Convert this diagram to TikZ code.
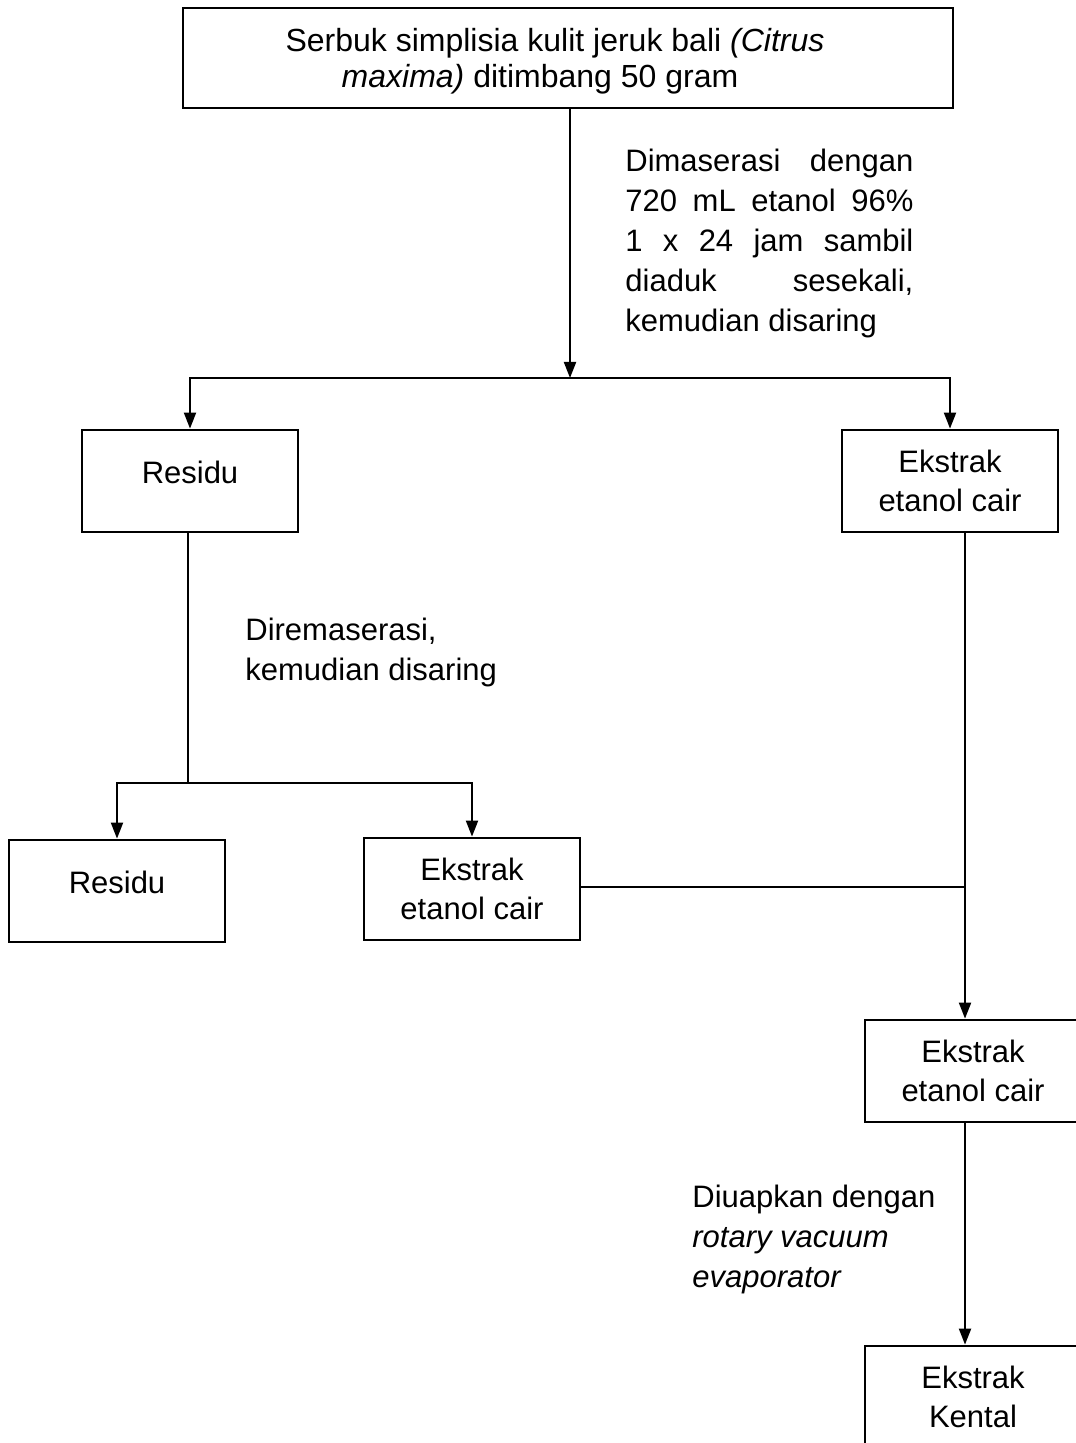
\documentclass[tikz,border=0pt]{standalone}
\usepackage{fontspec}
\setmainfont{Liberation Sans}
\usetikzlibrary{arrows.meta}

\begin{document}
\begin{tikzpicture}[x=0.5pt,y=-0.5pt,
  box/.style={draw,line width=1.4pt,minimum width=108pt,minimum height=51pt,align=center,inner sep=0pt,font=\fontsize{15.5}{19.5}\selectfont},
  arr/.style={line width=1pt,-{Triangle[width=6pt,length=8pt]}},
  ln/.style={line width=1pt},
  note/.style={anchor=base west,inner sep=0pt,align=left,font=\fontsize{15.5}{20}\selectfont}]
\useasboundingbox (0,0) rectangle (1075,1443);
% boxes
\node[box,minimum width=385pt,minimum height=50pt,text depth=-1pt,font=\fontsize{16}{18}\selectfont] (serbuk) at (568,58) {Serbuk simplisia kulit jeruk bali \textit{(Citrus}\hspace*{13pt}\\ \textit{maxima)} ditimbang 50 gram\hspace*{28pt}};
\node[box,text depth=9pt] (res1) at (190,481) {Residu};
\node[box] (ext1) at (950,481) {Ekstrak\\ etanol cair};
\node[box,text depth=9pt] (res2) at (117,891) {Residu};
\node[box] (ext2) at (472,889) {Ekstrak\\ etanol cair};
\node[box] (ext3) at (973,1071) {Ekstrak\\ etanol cair};
\node[box] (ext4) at (973,1397) {Ekstrak\\ Kental};
% junctions
\coordinate (j1) at (570,378);
\coordinate (j2) at (188,783);
\coordinate (j3) at (965,887);
% connectors
\draw[arr] (serbuk.south -| j1) -- (j1);
\draw[arr] (j1) -| (res1.north);
\draw[arr] (j1) -| (ext1.north);
\draw[ln] (res1.south -| j2) -- (j2);
\draw[arr] (j2) -| (res2.north);
\draw[arr] (j2) -| (ext2.north);
\draw[ln] (ext1.south -| j3) -- (j3);
\draw[ln] (ext2.east |- j3) -- (j3);
\draw[arr] (j3) -- (j3 |- ext3.north);
\draw[arr] (j3 |- ext3.south) -- (j3 |- ext4.north);
% notes
\node[note,text width=144pt,align=justify] (maserasi) at (625,172) {Dimaserasi dengan\linebreak 720 mL etanol 96\%\linebreak 1 x 24 jam sambil\linebreak diaduk sesekali,\linebreak kemudian disaring};
\node[note] (remaserasi) at (245,680) {Diremaserasi,\\ kemudian disaring};
\node[note] (uapkan) at (692,1287) {Diuapkan dengan\\ \textit{rotary vacuum}\\ \textit{evaporator}};
\end{tikzpicture}
\end{document}
